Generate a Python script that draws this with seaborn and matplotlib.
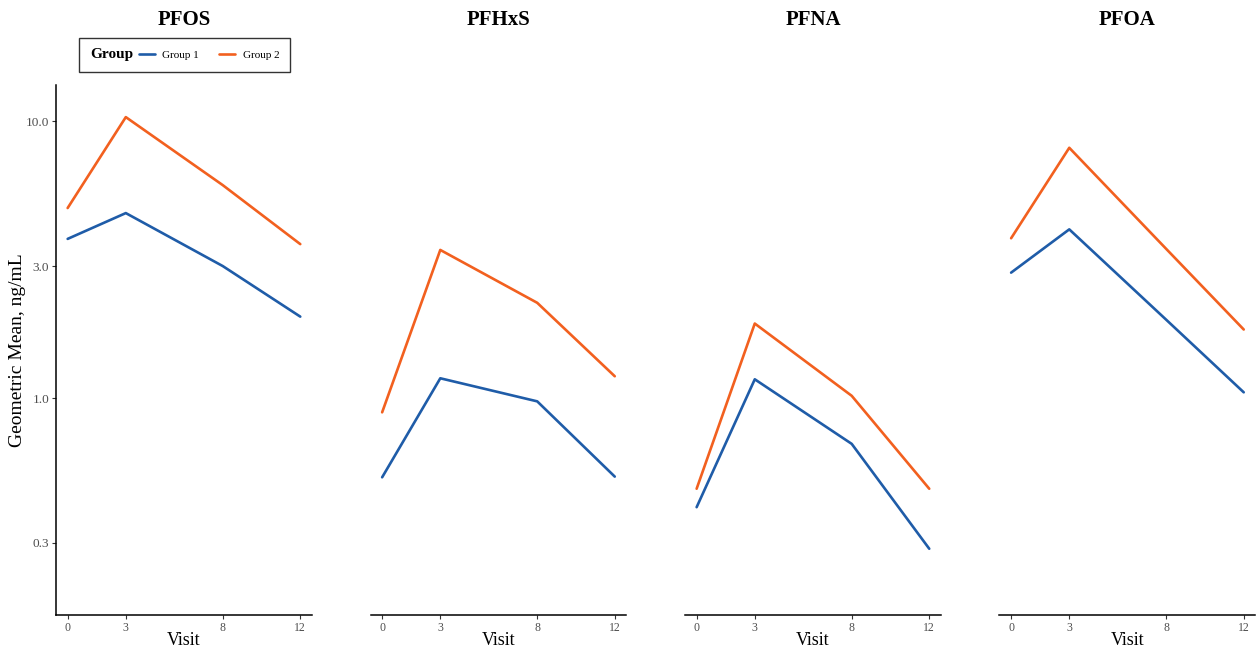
import matplotlib
matplotlib.use("Agg")
import matplotlib.pyplot as plt
import pandas as pd
import seaborn as sns
from matplotlib.lines import Line2D
from matplotlib.offsetbox import HPacker
from matplotlib.ticker import FixedLocator, FixedFormatter, NullLocator

# data (geometric means, ng/mL)
visits = [0, 3, 8, 12]
panels = ["PFOS", "PFHxS", "PFNA", "PFOA"]
group1 = {
    "PFOS": [3.76, 4.66, 3.00, 1.97],
    "PFHxS": [0.518, 1.18, 0.974, 0.521],
    "PFNA": [0.404, 1.17, 0.684, 0.286],
    "PFOA": [2.84, 4.07, 1.92, 1.05],
}
group2 = {
    "PFOS": [4.86, 10.35, 5.88, 3.60],
    "PFHxS": [0.889, 3.43, 2.21, 1.20],
    "PFNA": [0.471, 1.86, 1.02, 0.471],
    "PFOA": [3.78, 8.02, 3.46, 1.77],
}
y_ticks = [0.3, 1.0, 3.0, 10.0]
colors = {"Group 1": "#1F5CA8", "Group 2": "#F2601F"}

rows = []
for p in panels:
    for v, a, b in zip(visits, group1[p], group2[p]):
        rows.append({"panel": p, "Visit": v, "Group": "Group 1", "gm": a})
        rows.append({"panel": p, "Visit": v, "Group": "Group 2", "gm": b})
df = pd.DataFrame(rows)

sns.set_theme(style="white")
plt.rcParams["font.family"] = ["Liberation Serif", "DejaVu Serif"]
plt.rcParams["text.color"] = "black"
plt.rcParams["axes.labelcolor"] = "black"

fig, axes = plt.subplots(1, 4, figsize=(12.56, 6.5), dpi=100, sharey=True)
fig.subplots_adjust(left=0.0446, right=0.9995, top=0.869, bottom=0.054, wspace=0.229)

for i, (ax, p) in enumerate(zip(axes, panels)):
    sub = df[df["panel"] == p]
    sns.lineplot(data=sub, x="Visit", y="gm", hue="Group", palette=colors,
                 linewidth=1.9, ax=ax, legend=False)
    ax.set_xlim(-0.6, 12.6)
    ax.set_xticks(visits)
    ax.set_xticklabels([str(v) for v in visits])
    ax.set_title(p, fontsize=15, fontweight="bold", pad=43, color="black")
    ax.set_xlabel("Visit", fontsize=13, labelpad=-1)
    ax.tick_params(axis="x", bottom=True, length=3, width=0.8, color="#333333",
                   labelsize=8.5, labelcolor="#4d4d4d", pad=2)
    for s in ["top", "right"]:
        ax.spines[s].set_visible(False)
    ax.spines["bottom"].set_color("black")
    ax.spines["bottom"].set_linewidth(1.1)
    if i > 0:
        ax.spines["left"].set_visible(False)
        ax.tick_params(axis="y", left=False, labelleft=False, which="both")
        ax.set_ylabel(None)

# shared log y axis, ticks only on the first panel
ax0 = axes[0]
ax0.set_yscale("log")
ax0.set_ylim(0.165, 13.5)
ax0.yaxis.set_major_locator(FixedLocator(y_ticks))
ax0.yaxis.set_major_formatter(FixedFormatter([f"{t:.1f}" for t in y_ticks]))
ax0.yaxis.set_minor_locator(NullLocator())
ax0.tick_params(axis="y", left=True, length=3, width=0.8, color="#333333",
                labelsize=9.5, labelcolor="#4d4d4d", pad=2)
ax0.set_ylabel("Geometric Mean, ng/mL", fontsize=14)
ax0.yaxis.set_label_coords(-0.118, 0.5)
ax0.spines["left"].set_color("black")
ax0.spines["left"].set_linewidth(1.1)

# legend with the title on the left, as in the reference
handles = [Line2D([], [], color=colors[g], linewidth=1.9) for g in colors]
leg = ax0.legend(handles, list(colors), title="Group", ncol=2, loc="center",
                 bbox_to_anchor=(0.502, 1.0575), fontsize=8, frameon=True,
                 fancybox=False, edgecolor="black", handlelength=1.4,
                 handletextpad=0.7, columnspacing=1.8, borderpad=0.75)
leg.get_title().set_fontsize(11)
leg.get_title().set_fontweight("bold")
leg.get_frame().set_linewidth(1.0)
fs = 8 * 100 / 72
leg._legend_box = HPacker(pad=0.68 * fs, sep=0.4 * fs, align="center",
                          children=[leg._legend_title_box, leg._legend_handle_box])
leg._legend_box.set_figure(fig)
leg._legend_box.axes = ax0
leg._legend_box.set_offset(leg._findoffset)

fig.savefig("out.png", dpi=100, facecolor="white")
